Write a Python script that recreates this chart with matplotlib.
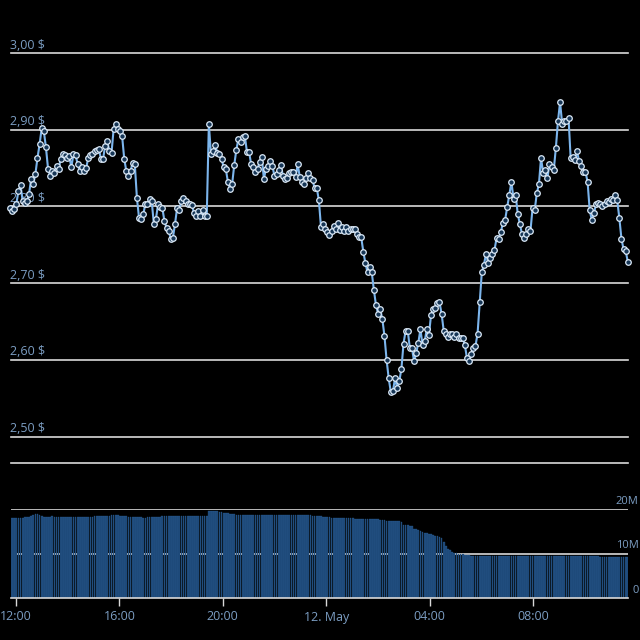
import matplotlib.pyplot as plt
import pandas as pd

# price readings, one every ~5 minutes from 11:46 (11 May) to 11:40 (12 May)
price = [
    2.798, 2.794, 2.797, 2.803, 2.820, 2.828, 2.807, 2.804, 2.807, 2.816,
    2.836, 2.829, 2.842, 2.863, 2.881, 2.902, 2.898, 2.877, 2.849, 2.840,
    2.846, 2.844, 2.853, 2.849, 2.862, 2.868, 2.867, 2.863, 2.866, 2.851,
    2.868, 2.867, 2.855, 2.846, 2.851, 2.846, 2.850, 2.863, 2.867, 2.868,
    2.872, 2.874, 2.875, 2.862, 2.862, 2.879, 2.885, 2.872, 2.870, 2.901,
    2.907, 2.901, 2.898, 2.892, 2.862, 2.846, 2.840, 2.846, 2.857, 2.855,
    2.811, 2.785, 2.784, 2.790, 2.803, 2.803, 2.810, 2.807, 2.777, 2.784,
    2.803, 2.799, 2.798, 2.781, 2.772, 2.768, 2.758, 2.759, 2.777, 2.798,
    2.795, 2.807, 2.811, 2.807, 2.803, 2.803, 2.802, 2.791, 2.787, 2.794,
    2.787, 2.795, 2.787, 2.787,
    2.907, 2.868, 2.872, 2.880, 2.870, 2.868, 2.862, 2.851, 2.849, 2.832,
    2.823, 2.829, 2.854, 2.874, 2.888, 2.884, 2.890, 2.892, 2.871, 2.871,
    2.855, 2.851, 2.845, 2.849, 2.858, 2.864, 2.836, 2.849, 2.853, 2.859,
    2.853, 2.840, 2.842, 2.847, 2.854, 2.840, 2.836, 2.837, 2.844, 2.845,
    2.845, 2.838, 2.855, 2.838, 2.832, 2.829, 2.837, 2.844, 2.837, 2.834,
    2.824, 2.824, 2.808, 2.773, 2.777, 2.771, 2.767, 2.763, 2.768, 2.774,
    2.771, 2.778, 2.769, 2.773, 2.768, 2.773, 2.768, 2.771, 2.771, 2.771,
    2.764, 2.760, 2.760, 2.741, 2.726, 2.714, 2.721, 2.714, 2.691,
    2.671, 2.660, 2.666, 2.653, 2.631, 2.600, 2.576, 2.558, 2.559, 2.576,
    2.563, 2.572, 2.588, 2.621, 2.638, 2.638, 2.615, 2.615, 2.598, 2.609,
    2.622, 2.640, 2.619, 2.624, 2.640, 2.632, 2.658, 2.666, 2.668, 2.674,
    2.675, 2.660, 2.638, 2.634, 2.630, 2.634, 2.634, 2.630, 2.634, 2.628,
    2.628, 2.628, 2.619, 2.602, 2.598, 2.608, 2.615, 2.618, 2.634, 2.675,
    2.714,
    2.724, 2.738, 2.726, 2.733, 2.738, 2.743, 2.759, 2.758, 2.767, 2.778,
    2.782, 2.799, 2.815, 2.832, 2.810, 2.815, 2.790, 2.777, 2.764, 2.759,
    2.764, 2.771, 2.768, 2.798, 2.795, 2.817, 2.829, 2.863, 2.844, 2.847,
    2.837, 2.855, 2.851, 2.847, 2.876, 2.911, 2.936, 2.907, 2.911, 2.911,
    2.915, 2.863, 2.864, 2.860, 2.872, 2.859, 2.853, 2.845, 2.845, 2.832,
    2.795, 2.782, 2.791, 2.803, 2.804, 2.803, 2.801, 2.803, 2.807, 2.806,
    2.810, 2.808, 2.815, 2.808, 2.785, 2.758, 2.744, 2.742, 2.728,
]

# volume readings in millions, same sampling
volume = [
    17.9, 17.9, 18.0, 17.9, 17.9, 18.0, 18.0, 18.1, 18.2, 18.3,
    18.5, 18.6, 18.8, 18.9, 18.7,
    18.4, 18.3, 18.3, 18.3, 18.3, 18.4, 18.3, 18.3, 18.3, 18.3,
    18.3, 18.3, 18.3, 18.3, 18.3, 18.3, 18.3, 18.3, 18.3, 18.3,
    18.3, 18.3, 18.3, 18.3, 18.3, 18.4, 18.4, 18.4, 18.5, 18.5,
    18.5, 18.5, 18.5,
    18.6, 18.6, 18.6, 18.6, 18.5, 18.5, 18.4, 18.4, 18.3, 18.2, 18.1, 18.1,
    18.1, 18.1, 18.1, 18.0, 18.0, 18.1, 18.1, 18.1, 18.1, 18.2, 18.2,
    18.3, 18.4, 18.4, 18.4, 18.4, 18.5, 18.5, 18.4, 18.4, 18.4,
    18.4, 18.4, 18.4, 18.4, 18.4, 18.4, 18.4, 18.4, 18.4, 18.4,
    18.4, 18.4, 18.4,
    19.6, 19.6, 19.6, 19.5, 19.5, 19.4, 19.3, 19.2,
    19.0, 19.0, 18.9, 18.9, 18.8,
    18.7, 18.7, 18.7, 18.7, 18.7, 18.6, 18.6, 18.6, 18.6, 18.6,
    18.6, 18.6, 18.6, 18.6, 18.6, 18.6, 18.6, 18.6, 18.6, 18.6,
    18.6, 18.6, 18.6, 18.6, 18.6, 18.6, 18.6, 18.6, 18.6, 18.6,
    18.6, 18.6, 18.6, 18.6, 18.6, 18.6, 18.5, 18.5,
    18.5, 18.4, 18.4, 18.3, 18.3,
    18.2, 18.1, 18.0, 18.0, 17.9, 17.9, 17.9, 17.9, 17.9, 17.9,
    17.9, 17.9, 17.9, 17.8, 17.8, 17.8, 17.8, 17.8, 17.8, 17.8,
    17.8, 17.7, 17.7,
    17.7, 17.7, 17.6, 17.6,
    17.5, 17.4, 17.4, 17.4, 17.4, 17.4, 17.4, 17.3, 17.0,
    16.5, 16.4, 16.3, 16.2, 16.1,
    15.6, 15.4, 15.2, 15.0, 14.9, 14.7, 14.6, 14.4, 14.3, 14.1, 14.0, 13.9, 13.8,
    13.5, 12.6, 11.6, 11.1, 10.7, 10.4, 10.2,
    10.1, 10.0, 9.9, 9.8, 9.7, 9.6, 9.6, 9.5, 9.5, 9.5, 9.5, 9.4, 9.4,
    9.4, 9.4, 9.4, 9.4, 9.4, 9.4, 9.4, 9.4, 9.4, 9.4,
    9.4, 9.4, 9.4, 9.4, 9.4, 9.4, 9.4, 9.4, 9.4, 9.4,
    9.4, 9.4, 9.4, 9.4, 9.4, 9.4, 9.4, 9.4, 9.4, 9.4,
    9.4, 9.4, 9.4, 9.4, 9.4, 9.4, 9.4, 9.4, 9.4, 9.4,
    9.4, 9.4, 9.4, 9.4, 9.4, 9.4, 9.4, 9.4, 9.4, 9.4,
    9.4, 9.4, 9.4, 9.4, 9.4, 9.3, 9.3, 9.3, 9.3, 9.3,
    9.3, 9.3, 9.2, 9.2, 9.2, 9.2, 9.2, 9.2, 9.2,
]

price_ticks = [2.5, 2.6, 2.7, 2.8, 2.9, 3.0]
price_labels = ['2,50 $', '2,60 $', '2,70 $', '2,80 $', '2,90 $', '3,00 $']
volume_ticks = [0, 10, 20]
volume_labels = ['0', '10M', '20M']
x_ticks = ['2021-05-11 12:00', '2021-05-11 16:00', '2021-05-11 20:00',
           '2021-05-12 00:00', '2021-05-12 04:00', '2021-05-12 08:00']
x_labels = ['12:00', '16:00', '20:00', '12. May', '04:00', '08:00']

START, END = '2021-05-11 11:46', '2021-05-12 11:40'

GRID = '#d9d9d9'
LABEL = '#7b9dc2'
LINE = '#7cb5ec'

plt.rcParams['font.family'] = ['Open Sans', 'DejaVu Sans']

fig = plt.figure(figsize=(6.4, 6.4), dpi=100, facecolor='black')
W = 640.0
ax_p = fig.add_axes([11 / W, 1 - 463 / W, 617 / W, 410 / W])
ax_v = fig.add_axes([11 / W, 1 - 598 / W, 617 / W, 89 / W])

t_price = pd.date_range(START, END, periods=len(price))
t_vol = pd.date_range(START, END, periods=len(volume))

px_per_hour = 25.85
x0 = pd.Timestamp('2021-05-11 12:00') - pd.Timedelta(hours=5 / px_per_hour)
x1 = x0 + pd.Timedelta(hours=617 / px_per_hour)

for ax in (ax_p, ax_v):
    ax.set_facecolor('black')
    ax.set_xlim(x0, x1)
    for side in ('top', 'left', 'right'):
        ax.spines[side].set_visible(False)
    ax.set_yticks([])

# price pane
ax_p.set_ylim(2.4655, 3.0)
ax_p.spines['bottom'].set_visible(False)
ax_p.set_xticks([])
for tick, lab in zip(price_ticks, price_labels):
    ax_p.axhline(tick, color=GRID, lw=1.2, zorder=1, clip_on=False)
    ax_p.annotate(lab, xy=(0, tick), xycoords=('axes fraction', 'data'),
                  xytext=(-1, 1.0), textcoords='offset points',
                  ha='left', va='bottom', color=LABEL, fontsize=9)
ax_p.axhline(2.4655, color=GRID, lw=1.2, zorder=1, clip_on=False)

ax_p.plot(t_price, price, color=LINE, lw=1.5, marker='o', ms=4,
          mfc='#163656', mec='#dbe9f7', mew=0.9, zorder=3, clip_on=False)

# volume pane
ax_v.set_ylim(0, 20)
step = (t_vol[1] - t_vol[0]) / pd.Timedelta(days=1)
ax_v.bar(t_vol, volume, width=step * 0.8, color='#1c4675',
         edgecolor='#2f649c', linewidth=0.2, zorder=2)
for tick, lab in zip(volume_ticks, volume_labels):
    if tick > 0:
        ax_v.axhline(tick, color=GRID, lw=1.2, zorder=1)
    ax_v.annotate(lab, xy=(1, tick), xycoords=('axes fraction', 'data'),
                  xytext=(7.5, 1.5), textcoords='offset points',
                  ha='right', va='bottom', color=LABEL, fontsize=8,
                  annotation_clip=False)

ax_v.spines['bottom'].set_color(GRID)
ax_v.spines['bottom'].set_linewidth(1.2)
ax_v.set_xticks(pd.to_datetime(x_ticks))
ax_v.set_xticklabels(x_labels)
ax_v.tick_params(axis='x', colors=GRID, length=6, width=1, pad=3,
                 labelcolor=LABEL, labelsize=9)

fig.savefig('out.png', dpi=100, facecolor='black')
